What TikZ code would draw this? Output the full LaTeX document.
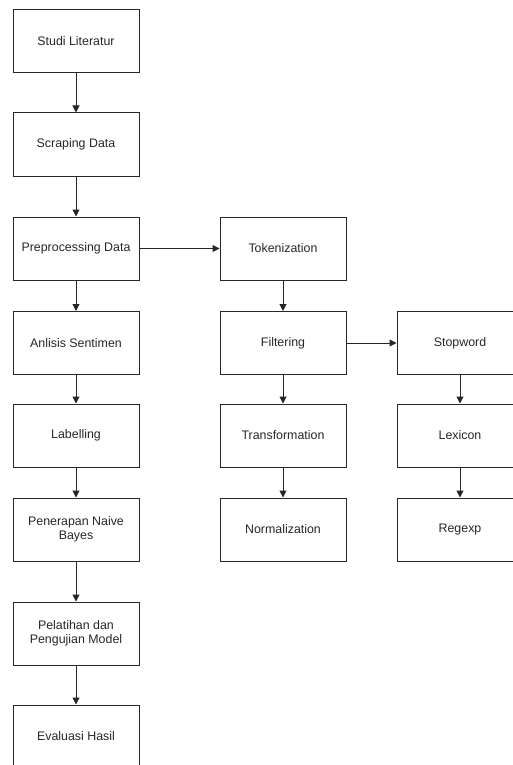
\documentclass[tikz,border=0pt]{standalone}
\usepackage{fontspec}
\setmainfont{Liberation Sans}
\usetikzlibrary{arrows.meta}
\begin{document}
\begin{tikzpicture}[x=1pt,y=-1pt,
  box/.style={draw=black!85,line width=1pt,minimum width=126pt,minimum height=63pt,inner sep=2pt,align=center,text=black!85,font=\fontsize{12.4}{14.5}\selectfont},
  arr/.style={draw=black!85,line width=1pt,-{Triangle[length=7pt,width=7pt]}}]
\useasboundingbox (0,0) rectangle (512,765);
\node[box] (a1) at (76,41.5) {Studi Literatur};
\node[box] (a2) at (76,144.5) {Scraping Data};
\node[box] (a3) at (76,248.5) {Preprocessing Data};
\node[box] (a4) at (76,343) {Anlisis Sentimen};
\node[box] (a5) at (76,435.5) {Labelling};
\node[box] (a6) at (76,529.5) {Penerapan Naive\\Bayes};
\node[box] (a7) at (76,633.5) {Pelatihan dan\\Pengujian Model};
\node[box] (a8) at (76,736.5) {Evaluasi Hasil};
\node[box] (b1) at (283,248.5) {Tokenization};
\node[box] (b2) at (283,343) {Filtering};
\node[box] (b3) at (283,435.5) {Transformation};
\node[box] (b4) at (283,529.5) {Normalization};
\node[box] (c1) at (460,343) {Stopword};
\node[box] (c2) at (460,435.5) {Lexicon};
\node[box] (c3) at (460,529.5) {Regexp};
\draw[arr] (a1) -- (a2);
\draw[arr] (a2) -- (a3);
\draw[arr] (a3) -- (a4);
\draw[arr] (a4) -- (a5);
\draw[arr] (a5) -- (a6);
\draw[arr] (a6) -- (a7);
\draw[arr] (a7) -- (a8);
\draw[arr] (a3) -- (b1);
\draw[arr] (b1) -- (b2);
\draw[arr] (b2) -- (b3);
\draw[arr] (b3) -- (b4);
\draw[arr] (b2) -- (c1);
\draw[arr] (c1) -- (c2);
\draw[arr] (c2) -- (c3);
\end{tikzpicture}
\end{document}
